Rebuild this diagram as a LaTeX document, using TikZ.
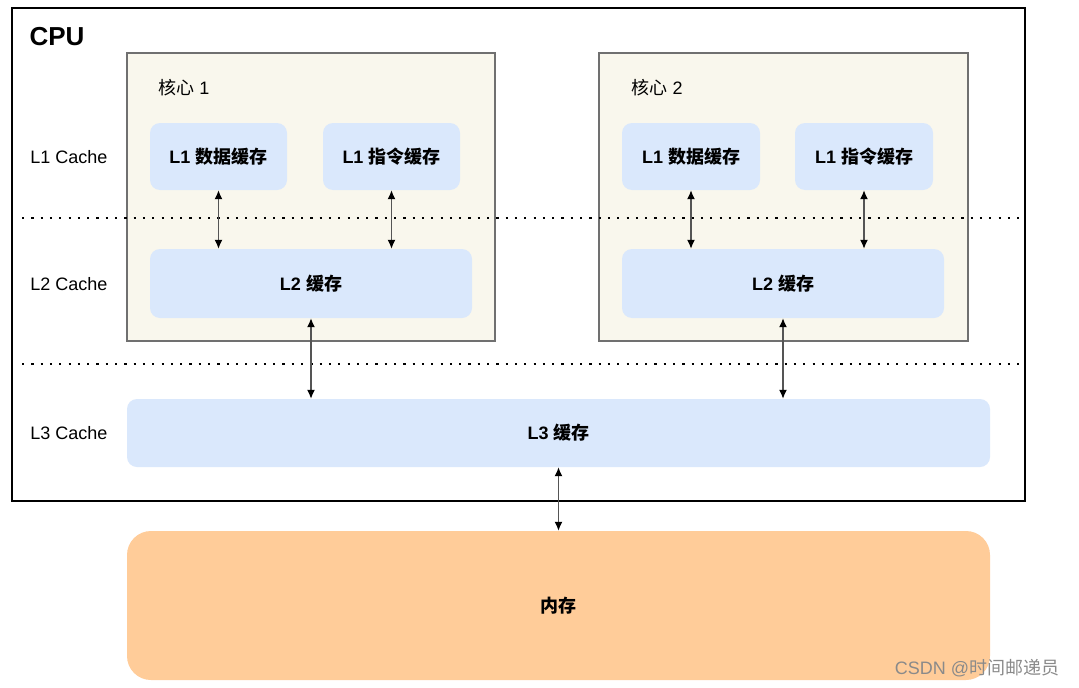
\documentclass[tikz,border=0pt]{standalone}
\usepackage{fontspec}
\setmainfont{Liberation Sans}
\newfontfamily\cjk{Noto Sans CJK SC}
\usetikzlibrary{arrows.meta}
\definecolor{cachefill}{HTML}{DAE8FC}
\definecolor{corefill}{HTML}{F9F7ED}
\definecolor{coreline}{HTML}{707070}
\definecolor{memfill}{HTML}{FFCC99}
\definecolor{arrowline}{HTML}{555555}
\definecolor{wmgray}{HTML}{8A8A8A}
\tikzset{
  cachebox/.style={fill=cachefill, draw=none, rounded corners=10pt, font=\fontsize{18}{21}\selectfont\bfseries, inner sep=0pt},
  corebox/.style={fill=corefill, draw=coreline, line width=1.3pt, inner sep=0pt},
  levellabel/.style={font=\fontsize{18}{21}\selectfont, anchor=center},
  dotline/.style={line width=2.2pt, dash pattern=on 2.2pt off 7.1pt},
  biarrow/.style={draw=arrowline, line width=1.4pt, {Latex[length=9pt,width=8pt,black]}-{Latex[length=9pt,width=8pt,black]}},
}
\begin{document}
\begin{tikzpicture}[x=1pt,y=-1pt]
\useasboundingbox (0,0) rectangle (1079,688);
\fill[white] (0,0) rectangle (1079,688);
% CPU outer box
\node[draw=black, line width=1.3pt, minimum width=1013pt, minimum height=493pt, inner sep=0pt] (cpu) at (518.5,254.5) {};
\node[font=\fontsize{26}{30}\selectfont\bfseries] (cputitle) at (57,37) {CPU};
% cores
\node[corebox, minimum width=368pt, minimum height=288pt] (core1) at (311,197) {};
\node[corebox, minimum width=369pt, minimum height=288pt] (core2) at (783.5,197) {};
\node[font=\fontsize{18}{21}\selectfont] (core1t) at (184,88) {{\cjk 核心} 1};
\node[font=\fontsize{18}{21}\selectfont] (core2t) at (657,88) {{\cjk 核心} 2};
% core 1 caches
\node[cachebox, minimum width=137pt, minimum height=67pt] (l1d1) at (218.5,156.5) {L1 {\cjk\bfseries 数据缓存}};
\node[cachebox, minimum width=137pt, minimum height=67pt] (l1i1) at (391.5,156.5) {L1 {\cjk\bfseries 指令缓存}};
\node[cachebox, minimum width=322pt, minimum height=69pt] (l21) at (311,283.5) {L2 {\cjk\bfseries 缓存}};
% core 2 caches
\node[cachebox, minimum width=138pt, minimum height=67pt] (l1d2) at (691,156.5) {L1 {\cjk\bfseries 数据缓存}};
\node[cachebox, minimum width=138pt, minimum height=67pt] (l1i2) at (864,156.5) {L1 {\cjk\bfseries 指令缓存}};
\node[cachebox, minimum width=322pt, minimum height=69pt] (l22) at (783,283.5) {L2 {\cjk\bfseries 缓存}};
% L3 and memory
\node[cachebox, minimum width=863pt, minimum height=68pt] (l3) at (558.5,433) {L3 {\cjk\bfseries 缓存}};
\node[fill=memfill, rounded corners=24pt, minimum width=863pt, minimum height=149pt, inner sep=0pt, font=\fontsize{18}{21}\selectfont\cjk\bfseries] (mem) at (558.5,605.5) {内存};
% level labels
\node[levellabel] (lab1) at (69,157) {L1 Cache};
\node[levellabel] (lab2) at (69,284) {L2 Cache};
\node[levellabel] (lab3) at (69,433) {L3 Cache};
% dotted separators
\coordinate (d1a) at (22,218);
\coordinate (d1b) at (1022,218);
\coordinate (d2a) at (22,364);
\coordinate (d2b) at (1020,364);
\draw[dotline] (d1a) -- (d1b);
\draw[dotline] (d2a) -- (d2b);
% arrows
\draw[biarrow] (l1d1.south) -- (l1d1.south |- l21.north);
\draw[biarrow] (l1i1.south) -- (l1i1.south |- l21.north);
\draw[biarrow] (l1d2.south) -- (l1d2.south |- l22.north);
\draw[biarrow] (l1i2.south) -- (l1i2.south |- l22.north);
\draw[biarrow] (l21.south) -- (l21.south |- l3.north);
\draw[biarrow] (l22.south) -- (l22.south |- l3.north);
\draw[biarrow] (l3.south) -- (mem.north);
% watermark
\node[text=wmgray, font=\fontsize{18}{21}\selectfont, anchor=center] (wm) at (977,668) {CSDN @{\cjk 时间邮递员}};
\end{tikzpicture}
\end{document}
